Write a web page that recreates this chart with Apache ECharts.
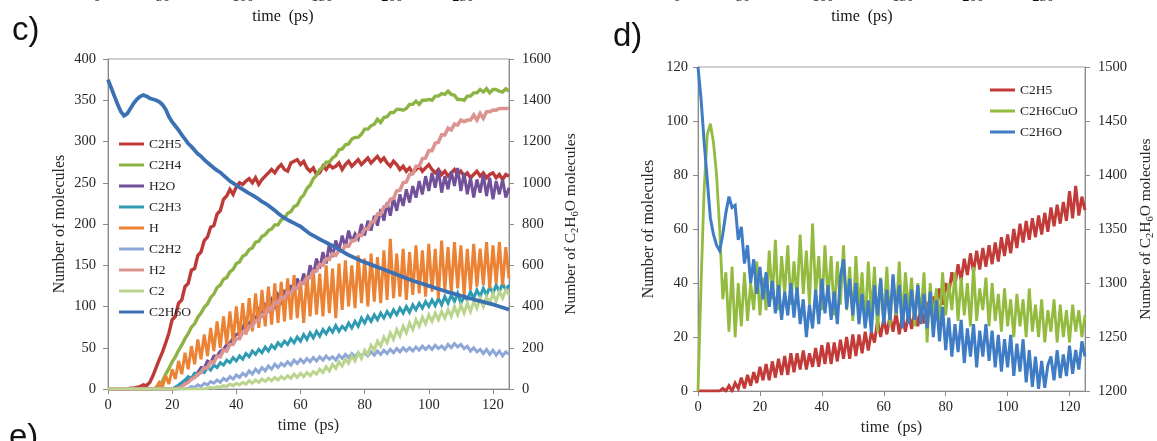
<!DOCTYPE html>
<html><head><meta charset="utf-8">
<script src="https://cdn.jsdelivr.net/npm/echarts@6/dist/echarts.min.js"></script>
<style>html,body{margin:0;padding:0;background:#fff}#c{width:1157px;height:441px}</style>
</head><body><div id="c"></div>
<script>
// time grid (ps), one sample per ps
const T = Array.from({length: 126}, (_, i) => i);
const topTickLabelsC = ['0', '50', '100', '150', '200', '250'];
const topTickLabelsD = ['0', '50', '100', '150', '200', '250'];

// ---- panel c (left axis: molecules, right axis: C2H6O) ----
const c_C2H5 = [
 0,0,0,0,0,0,0,1,1,2,
 3,5,4,8,16,26,36,45,56,68,
 84,88,104,108,124,128,144,146,162,166,
 180,184,196,198,212,216,230,234,242,236,
 245,250,248,252,255,250,256,248,254,258,
 262,266,262,268,272,266,264,274,276,278,
 272,276,268,264,268,260,262,270,266,272,
 268,270,274,266,272,276,270,274,278,272,
 276,280,274,278,282,276,280,274,270,276,
 272,266,270,264,268,262,266,270,264,268,
 272,266,262,266,260,264,258,262,266,260,
 264,258,262,256,260,264,258,262,256,260,
 262,256,260,254,260,258];
const c_C2H4 = [
 0,0,0,0,0,0,0,0,0,0,
 0,0,0,0,0,0,2,10,18,25,
 33,39,47,53,61,67,75,79,87,92,
 99,103,111,115,123,126,133,135,142,145,
 152,154,161,163,169,171,178,179,185,187,
 192,194,199,199,205,207,213,215,221,223,
 231,235,243,247,255,259,266,269,275,275,
 280,283,290,291,296,297,303,305,305,309,
 315,315,319,321,327,323,329,330,335,335,
 339,339,338,340,345,345,349,345,350,350,
 351,350,355,355,358,357,361,357,356,351,
 351,350,355,355,359,359,363,360,364,359,
 363,363,361,360,364,361];
const c_H2O = [
 0,0,0,0,0,0,0,0,0,0,
 0,0,0,0,0,0,0,0,0,0,
 0,2,2,6,6,12,12,18,20,26,
 26,34,32,40,40,46,48,54,56,62,
 66,68,74,84,76,88,84,96,90,102,
 96,108,100,114,106,120,110,126,116,134,
 124,140,128,150,138,158,146,166,152,176,
 160,180,168,186,172,192,178,188,182,200,
 186,204,192,210,198,218,204,226,210,232,
 216,236,222,242,226,246,232,252,236,258,
 240,262,244,266,238,258,242,264,246,268,
 240,262,236,256,232,254,238,260,234,256,
 230,252,236,254,232,244];
const c_C2H3 = [
 0,0,0,0,0,0,0,0,0,0,
 0,0,0,0,0,0,0,0,0,0,
 0,2,5,8,11,15,13,19,17,22,
 20,26,23,29,26,32,29,35,32,38,
 34,40,36,43,39,46,42,48,44,51,
 46,53,49,56,52,58,54,61,56,63,
 58,66,60,68,62,70,64,72,67,74,
 69,77,70,76,72,80,74,82,76,86,
 80,88,82,90,84,92,86,94,88,96,
 90,98,92,100,93,102,96,104,98,106,
 100,108,101,110,102,112,104,114,106,116,
 104,112,108,118,110,120,112,122,114,124,
 116,126,118,128,120,126];
const c_H = [
 0,0,0,0,0,0,0,0,0,0,
 0,0,0,0,0,2,8,3,16,6,
 24,12,34,18,44,24,52,30,60,36,
 66,40,74,46,82,50,88,54,94,58,
 100,62,104,66,110,70,116,74,120,76,
 124,78,128,80,130,82,134,84,138,86,
 130,80,138,88,144,90,140,88,150,92,
 146,86,152,96,156,100,150,98,162,104,
 158,100,164,106,160,104,168,108,182,110,
 164,112,170,108,166,114,174,116,168,112,
 176,118,170,110,180,120,172,116,178,122,
 174,114,170,120,176,124,170,126,178,122,
 174,128,178,126,172,134];
const c_C2H2 = [
 0,0,0,0,0,0,0,0,0,0,
 0,0,0,0,0,0,0,0,0,0,
 0,0,0,0,0,1,3,2,5,3,
 7,5,9,7,11,8,13,10,15,12,
 17,14,19,16,22,18,24,20,26,22,
 28,24,30,26,31,28,33,29,35,31,
 36,32,37,33,38,34,39,35,40,36,
 39,35,41,37,42,38,43,39,44,40,
 44,40,45,41,46,42,47,43,48,44,
 49,45,50,46,50,46,51,47,52,48,
 52,48,53,49,52,48,54,50,55,51,
 54,49,52,46,50,45,48,43,48,42,
 47,41,46,40,45,42];
const c_H2 = [
 0,0,0,0,0,0,0,0,0,0,
 0,0,0,0,0,0,0,0,0,0,
 0,0,1,3,6,8,12,14,18,20,
 26,25,33,32,40,39,47,46,54,54,
 61,61,69,68,76,76,83,83,90,90,
 98,97,105,104,111,110,117,116,123,122,
 129,128,135,135,143,143,151,150,158,157,
 164,162,168,167,174,173,180,180,187,186,
 194,194,202,203,212,212,221,222,230,231,
 240,241,250,251,260,261,270,270,279,280,
 289,289,298,299,308,308,316,314,321,320,
 326,324,326,326,332,326,334,328,336,336,
 338,338,340,340,340,340];
const c_C2 = [
 0,0,0,0,0,0,0,0,0,0,
 0,0,0,0,0,0,0,0,0,0,
 0,0,0,0,0,0,0,0,0,0,
 0,1,2,1,3,2,4,3,6,4,
 7,5,8,6,10,7,11,8,12,9,
 13,10,14,11,15,12,16,13,18,14,
 19,15,20,16,21,18,24,20,27,22,
 30,25,33,28,36,31,40,34,44,37,
 47,42,53,47,58,52,63,56,68,60,
 72,64,76,68,80,72,84,76,87,79,
 90,82,92,84,94,86,96,88,100,90,
 102,92,104,94,106,98,110,100,112,104,
 116,106,118,110,120,114];
// C2H6O on right axis (number of C2H6O molecules)
const c_C2H6O = [
 1500,1460,1420,1380,1345,1325,1335,1360,1385,1405,
 1418,1425,1420,1410,1405,1400,1392,1378,1355,1320,
 1295,1275,1255,1232,1212,1190,1175,1158,1140,1128,
 1112,1098,1085,1072,1060,1050,1036,1022,1008,998,
 988,978,968,958,948,940,930,920,908,900,
 890,878,866,852,840,830,820,812,804,796,
 788,776,764,752,744,735,726,718,710,702,
 695,686,676,668,658,650,642,635,628,621,
 615,609,603,597,591,585,579,573,567,561,
 555,549,543,537,531,525,520,515,510,505,
 500,495,490,485,480,475,470,466,461,457,
 452,448,443,439,434,430,426,422,418,414,
 410,405,400,395,390,385];

// ---- panel d ----
const d_C2H5 = [
 0,0,0,0,0,0,0,0,1,0,
 2,0,3,1,5,1,6,2,7,3,
 9,4,10,4,11,5,12,6,13,6,
 14,7,14,8,15,8,14,9,16,9,
 17,10,18,10,18,11,19,12,20,12,
 21,13,21,14,22,15,22,18,26,20,
 27,21,28,22,29,21,28,22,29,23,
 30,24,31,25,33,28,35,30,38,32,
 40,36,44,39,47,41,49,43,51,44,
 52,45,53,46,54,47,55,48,57,50,
 58,51,60,53,62,55,63,56,64,57,
 65,58,66,59,68,61,69,62,70,63,
 74,64,76,65,72,67];
const d_C2H6CuO = [
 0,40,75,95,99,92,80,60,34,44,
 22,46,20,40,24,44,26,40,30,48,
 28,42,30,52,34,56,30,50,36,54,
 32,48,34,58,36,52,32,62,36,50,
 30,54,34,50,28,48,32,54,30,46,
 26,50,30,44,24,48,28,46,22,42,
 26,46,24,42,28,48,26,44,30,42,
 24,40,28,44,18,40,26,38,24,44,
 28,40,30,44,26,42,28,40,24,46,
 26,38,30,42,24,40,26,36,22,38,
 24,34,20,36,24,34,20,38,22,32,
 20,34,18,30,22,34,18,32,20,30,
 18,32,22,30,20,28];
// C2H6O on right axis (1200-1500)
const d_C2H6O = [
 1500,1470,1430,1395,1360,1345,1335,1330,1345,1365,
 1380,1370,1372,1340,1352,1318,1335,1300,1322,1290,
 1315,1285,1310,1278,1302,1272,1298,1266,1292,1270,
 1300,1268,1296,1262,1285,1250,1280,1258,1294,1262,
 1304,1272,1298,1266,1292,1262,1306,1322,1276,1304,
 1270,1300,1262,1290,1258,1284,1254,1298,1270,1304,
 1262,1294,1266,1308,1272,1298,1258,1290,1262,1294,
 1266,1298,1262,1290,1258,1292,1250,1284,1246,1278,
 1238,1268,1232,1262,1236,1266,1226,1258,1232,1262,
 1222,1256,1232,1262,1228,1256,1222,1252,1218,1248,
 1222,1252,1214,1244,1218,1248,1208,1238,1204,1232,
 1202,1228,1203,1224,1232,1210,1238,1212,1234,1214,
 1242,1216,1238,1220,1246,1232];

const COL = {
  C2H5: '#BD3A37', C2H4: '#8CB444', H2O: '#72519A', C2H3: '#2F9BB2', H: '#EC8233',
  C2H2: '#8EA7D7', H2: '#DC9490', C2: '#BAD48E', C2H6O: '#3B71B3',
  dC2H5: '#C23B38', dCuO: '#93BB3F', dC2H6O: '#3F7CC6'
};

const SERIF = '"Liberation Serif", "Times New Roman", serif';
const TXT = '#262626';
const AX = '#8a8a8a';

function pts(arr) { return T.map((t, i) => [t, arr[i]]); }
function line(name, arr, color, xi, yi, w) {
  return { name, type: 'line', xAxisIndex: xi, yAxisIndex: yi, data: pts(arr),
    showSymbol: false, symbol: 'none', smooth: false, sampling: false,
    lineStyle: { color, width: w, join: 'miter', miterLimit: 3 }, itemStyle: { color }, emphasis: { disabled: true } };
}

const plain = v => String(v);
const axisCommon = {
  axisLine: { show: true, lineStyle: { color: AX, width: 1 } },
  axisTick: { show: true, length: 5, lineStyle: { color: AX } },
  splitLine: { show: false },
  axisLabel: { color: TXT, fontFamily: SERIF, fontSize: 14.5, formatter: plain },
  nameTextStyle: { color: TXT, fontFamily: SERIF, fontSize: 16 }
};
function xAx(gi, gap) {
  return Object.assign({}, axisCommon, {
    type: 'value', gridIndex: gi, min: 0, max: 125, interval: 20,
    name: 'time  (ps)', nameLocation: 'middle', nameGap: gap,
    axisLabel: Object.assign({}, axisCommon.axisLabel, { margin: 9, showMaxLabel: false })
  });
}
const subName = 'Number of C{s|2}H{s|6}O molecules';
const richSub = { s: { fontSize: 10.5, fontFamily: SERIF, color: TXT, lineHeight: 10, verticalAlign: 'bottom' } };
function yAx(gi, pos, min, max, interval, name, gap, margin, rich) {
  return Object.assign({}, axisCommon, {
    type: 'value', gridIndex: gi, position: pos, min, max, interval,
    name, nameLocation: 'middle', nameGap: gap, nameRotate: 90,
    nameTextStyle: Object.assign({}, axisCommon.nameTextStyle, rich ? { fontSize: 15.5, lineHeight: 20, rich: richSub } : {}),
    axisLabel: Object.assign({}, axisCommon.axisLabel, { margin })
  });
}

function gtext(text, x, y, font, align, va) {
  return { type: 'text', x, y, silent: true,
    style: { text, font, fill: '#111', align: align || 'left', verticalAlign: va || 'middle' } };
}

const chart = echarts.init(document.getElementById('c'), null, { renderer: 'canvas' });
const topXC = [97, 163, 243, 322, 392, 463];
const topXD = [677, 743, 823, 903, 973, 1043];
const graphics = [
  gtext('c)', 12, 31, '33px "Liberation Sans", Arial, sans-serif'),
  gtext('d)', 613, 37, '33px "Liberation Sans", Arial, sans-serif'),
  gtext('e)', 9, 438, '33px "Liberation Sans", Arial, sans-serif'),
  gtext('time  (ps)', 283, 17, '16px ' + SERIF, 'center'),
  gtext('time  (ps)', 862, 17, '16px ' + SERIF, 'center')
];
topTickLabelsC.forEach((s, i) => graphics.push(gtext(s, topXC[i], 5, '14.5px ' + SERIF, 'center', 'bottom')));
topTickLabelsD.forEach((s, i) => graphics.push(gtext(s, topXD[i], 5, '14.5px ' + SERIF, 'center', 'bottom')));

const legendText = { color: TXT, fontFamily: SERIF, fontSize: 13.5 };
chart.setOption({
  animation: false,
  backgroundColor: '#fff',
  grid: [
    { left: 108, right: 648, top: 59, bottom: 52, show: true, borderColor: '#a0a0a0', borderWidth: 1 },
    { left: 698, right: 66, top: 67, bottom: 43, show: true, borderColor: '#a0a0a0', borderWidth: 1 }
  ],
  xAxis: [xAx(0, 28), xAx(1, 27)],
  yAxis: [
    yAx(0, 'left', 0, 400, 50, 'Number of molecules', 40, 12, false),
    yAx(0, 'right', 0, 1600, 200, subName, 52, 13, true),
    yAx(1, 'left', 0, 120, 20, 'Number of molecules', 41, 10, false),
    yAx(1, 'right', 1200, 1500, 50, subName, 51, 13, true)
  ],
  legend: [
    { orient: 'vertical', left: 114, top: 132, itemWidth: 25, itemHeight: 3, itemGap: 7, icon: 'rect',
      textStyle: legendText, selectedMode: false,
      data: ['C2H5', 'C2H4', 'H2O', 'C2H3', 'H', 'C2H2', 'H2', 'C2', 'C2H6O'].map(n => ({ name: n, itemStyle: { color: COL[n] } })) },
    { orient: 'vertical', left: 985, top: 78, itemWidth: 25, itemHeight: 3, itemGap: 7, icon: 'rect',
      textStyle: legendText, selectedMode: false,
      data: [{ name: 'C2H5', itemStyle: { color: COL.dC2H5 } }, { name: 'C2H6CuO', itemStyle: { color: COL.dCuO } }, { name: 'C2H6O', itemStyle: { color: COL.dC2H6O } }] }
  ],
  graphic: graphics,
  series: [
    line('C2H5', c_C2H5, COL.C2H5, 0, 0, 3.4),
    line('C2H4', c_C2H4, COL.C2H4, 0, 0, 3.4),
    line('H2O', c_H2O, COL.H2O, 0, 0, 3),
    line('C2H3', c_C2H3, COL.C2H3, 0, 0, 3),
    line('H', c_H, COL.H, 0, 0, 3),
    line('C2H2', c_C2H2, COL.C2H2, 0, 0, 3),
    line('H2', c_H2, COL.H2, 0, 0, 3.6),
    line('C2', c_C2, COL.C2, 0, 0, 3),
    line('C2H6O', c_C2H6O, COL.C2H6O, 0, 1, 3.8),
    line('C2H5', d_C2H5, COL.dC2H5, 1, 2, 3),
    line('C2H6CuO', d_C2H6CuO, COL.dCuO, 1, 2, 2.8),
    line('C2H6O', d_C2H6O, COL.dC2H6O, 1, 3, 3)
  ]
});
</script></body></html>
